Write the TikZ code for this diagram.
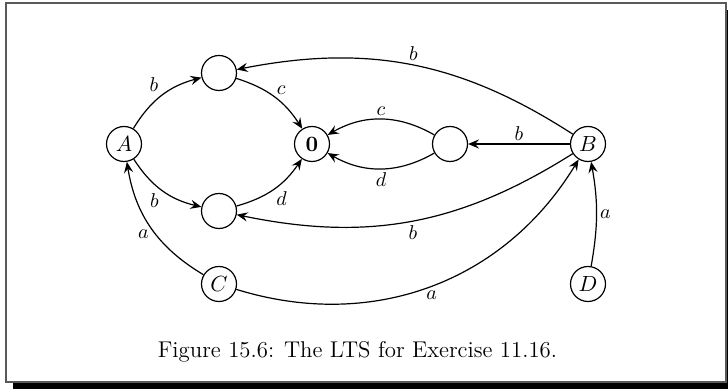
\documentclass[tikz,border=0pt]{standalone}
\usetikzlibrary{arrows.meta}
\begin{document}
\begin{tikzpicture}[x=0.5pt,y=-0.5pt,
  st/.style={circle,draw,line width=0.6pt,minimum size=17.5pt,inner sep=0pt,font=\fontsize{10.5}{12}\selectfont},
  tr/.style={line width=0.6pt,-{Stealth[length=5.5pt,width=4.6pt,inset=2pt]}},
  lb/.style={font=\fontsize{10}{12}\selectfont,inner sep=1.5pt}]
\useasboundingbox (0,0) rectangle (728,389);
\fill[black] (13,382) rectangle (728,389);
\fill[black] (727,10) rectangle (728,389);
\draw[black!65,line width=1pt] (5.5,3.5) rectangle (726,382);
\node[st] (A) at (124,144) {$A$};
\node[st] (T) at (219,73) {};
\node[st] (Bt) at (219,211) {};
\node[st] (Z) at (312,144) {$\mathbf{0}$};
\node[st] (R) at (450,144) {};
\node[st] (B) at (588,144) {$B$};
\node[st] (C) at (219,284) {$C$};
\node[st] (D) at (588,284) {$D$};
\draw[tr] (A) to[bend left=22] node[lb,auto] {$b$} (T);
\draw[tr] (A) to[bend right=22] node[lb,auto,swap] {$b$} (Bt);
\draw[tr] (T) to[bend left=20] node[lb,auto,inner sep=1pt] {$c$} (Z);
\draw[tr] (Bt) to[bend right=20] node[lb,auto,swap,inner sep=1pt] {$d$} (Z);
\draw[tr] (R) to[bend right=30] node[lb,auto,swap] {$c$} (Z);
\draw[tr] (R) to[bend left=30] node[lb,auto] {$d$} (Z);
\draw[tr] (B) -- node[lb,auto,swap] {$b$} (R);
\draw[tr] (B) to[bend right=22] node[lb,auto,swap,pos=0.52] {$b$} (T);
\draw[tr] (B) to[bend left=22] node[lb,auto,pos=0.52] {$b$} (Bt);
\draw[tr] (C) to[bend left=25] node[lb,auto,inner sep=1pt] {$a$} (A);
\draw[tr] (C) to[bend right=38] node[lb,auto,swap,pos=0.48,inner sep=1pt] {$a$} (B);
\draw[tr] (D) to[bend right=10] node[lb,auto,swap] {$a$} (B);
\node[anchor=base,font=\fontsize{11.4}{13}\selectfont] (cap) at (357.5,358) {Figure 15.6: The LTS for Exercise 11.16.};
\end{tikzpicture}
\end{document}
